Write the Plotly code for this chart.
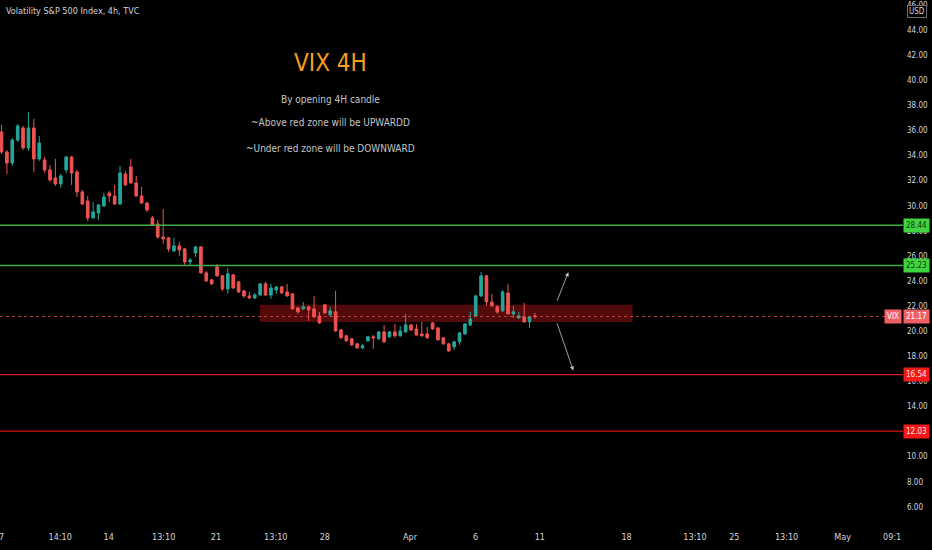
import plotly.graph_objects as go

# 4h candles, bar index 0 = first visible bar (Mar 7)
opens = [35.88, 34.29, 33.41, 35.24, 36.20, 34.61, 36.20, 33.73, 33.65, 32.85,
         32.22, 31.74, 32.85, 33.89, 32.69, 31.10, 30.38, 29.03, 29.43, 29.98,
         31.02, 30.78, 30.14, 32.53, 33.09, 31.82, 30.78, 30.22, 29.03, 28.55,
         27.51, 27.44, 26.40, 26.80, 26.56, 25.52, 26.24, 26.72, 24.65, 24.09,
         25.12, 24.41, 23.37, 24.49, 23.93, 23.21, 22.81, 22.65, 22.89, 23.77,
         22.89, 23.29, 23.53, 23.13, 22.97, 21.86, 21.78, 21.94, 21.78, 21.22,
         22.10, 21.30, 21.54, 20.10, 19.63, 19.39, 18.99, 18.67, 19.23, 19.55,
         19.39, 19.94, 19.55, 19.94, 19.63, 19.94, 20.50, 20.18, 19.78, 19.78,
         20.66, 20.26, 19.47, 18.99, 18.75, 19.15, 19.78, 20.50, 21.22, 22.81,
         24.41, 22.33, 21.94, 21.62, 23.05, 21.38, 21.06, 21.14, 20.74, 21.22]
highs = [36.44, 34.45, 35.40, 36.52, 36.36, 37.47, 36.92, 35.56, 33.89, 33.25,
         33.73, 32.53, 33.97, 33.97, 32.85, 31.26, 30.78, 30.30, 30.14, 31.02,
         31.18, 31.66, 33.17, 32.77, 33.73, 32.38, 31.50, 30.30, 29.19, 28.87,
         29.74, 27.51, 27.44, 27.12, 26.64, 25.84, 26.80, 26.80, 24.80, 24.17,
         25.36, 24.49, 25.04, 24.57, 24.01, 23.29, 23.13, 23.05, 23.85, 23.93,
         23.77, 23.61, 23.61, 23.77, 23.05, 21.94, 22.33, 22.02, 22.81, 21.54,
         22.18, 21.94, 23.21, 20.18, 19.70, 19.47, 19.07, 18.99, 19.63, 19.70,
         20.02, 20.50, 20.02, 20.58, 20.42, 21.38, 20.58, 20.58, 20.74, 20.34,
         20.74, 20.34, 19.55, 19.07, 19.23, 19.94, 20.66, 21.54, 22.89, 24.73,
         24.49, 22.97, 22.10, 23.29, 23.77, 22.02, 21.54, 22.25, 21.22, 21.46]
lows = [34.13, 32.53, 33.17, 35.08, 34.45, 34.37, 32.69, 33.57, 32.61, 31.90,
        31.58, 31.42, 32.61, 31.66, 30.70, 30.06, 28.79, 28.95, 28.87, 29.90,
        30.30, 30.06, 30.06, 31.58, 31.74, 30.70, 30.14, 29.51, 28.39, 27.36,
        26.96, 26.32, 26.32, 26.00, 25.28, 25.28, 25.92, 24.57, 23.93, 23.69,
        24.33, 23.21, 22.97, 23.37, 23.05, 22.65, 22.57, 22.57, 22.81, 22.81,
        22.57, 22.97, 22.97, 22.73, 21.70, 21.38, 21.70, 20.82, 21.06, 20.58,
        21.38, 21.14, 19.94, 19.39, 19.15, 18.83, 18.59, 18.59, 19.15, 18.59,
        19.31, 19.07, 19.47, 19.47, 19.55, 19.86, 20.02, 19.63, 19.55, 19.39,
        20.10, 19.23, 18.91, 18.35, 18.51, 18.91, 19.70, 20.42, 21.14, 22.73,
        22.02, 21.94, 21.38, 21.54, 21.30, 21.06, 20.98, 20.66, 20.26, 20.98]
closes = [34.29, 33.41, 35.24, 36.36, 34.61, 36.20, 33.73, 35.00, 32.85, 32.06,
          31.74, 32.38, 33.89, 32.61, 31.10, 30.14, 29.03, 29.51, 30.06, 30.70,
          30.78, 30.14, 32.61, 31.66, 31.82, 30.78, 30.22, 29.66, 28.47, 27.51,
          27.36, 26.56, 26.80, 26.48, 25.52, 25.68, 26.72, 24.65, 24.01, 23.77,
          24.41, 23.37, 24.57, 23.45, 23.13, 22.81, 22.65, 22.89, 23.77, 22.89,
          23.45, 23.53, 23.05, 22.81, 21.78, 21.54, 21.94, 21.70, 21.14, 20.66,
          21.46, 21.62, 20.02, 19.47, 19.23, 18.91, 18.67, 18.83, 19.55, 19.47,
          19.94, 19.15, 19.94, 19.63, 20.02, 20.50, 20.10, 19.70, 19.63, 19.47,
          20.18, 19.31, 18.99, 18.43, 19.15, 19.86, 20.58, 20.98, 22.81, 24.41,
          22.33, 22.02, 21.54, 23.13, 21.38, 21.54, 21.22, 20.74, 21.14, 21.17]
bars = list(range(len(closes)))

# time axis labels (bar index positions)
x_tick_pos = [0, 10.9, 19.9, 30.1, 39.8, 50.9, 60, 75.8, 88, 99.9, 116, 128.7, 136, 145.7, 156.1]
x_tick_txt = ["7", "14:10", "14", "13:10", "21", "13:10", "28", "Apr", "6", "11",
              "18", "13:10", "25", "13:10", "May"]

# horizontal levels
green_levels = [28.44, 25.23]
red_levels = [16.54, 12.03]
last_price = 21.17

# red zone and arrows
zone_x = [47.96, 117.1]
zone_y = [20.74, 22.10]
arrow_up = [(103.0, 22.31), (105.2, 24.70)]
arrow_down = [(103.0, 20.76), (106.1, 16.87)]

FONT = "DejaVu Sans Condensed, Liberation Sans Narrow, sans-serif"
TXT = "#d1d4dc"

fig = go.Figure()
fig.add_trace(go.Candlestick(
    x=bars, open=opens, high=highs, low=lows, close=closes,
    increasing=dict(line=dict(color="#26a69a", width=1), fillcolor="#26a69a"),
    decreasing=dict(line=dict(color="#ef5350", width=1), fillcolor="#ef5350"),
    whiskerwidth=0, hoverinfo="skip", showlegend=False,
))

shapes = []
shapes.append(dict(type="rect", xref="x", yref="y", x0=zone_x[0], x1=zone_x[1],
                   y0=zone_y[0], y1=zone_y[1], fillcolor="rgba(150,18,18,0.55)",
                   line=dict(width=0), layer="below"))
for lv in green_levels:
    shapes.append(dict(type="line", xref="paper", yref="y", x0=0, x1=1, y0=lv, y1=lv,
                       line=dict(color="#43b047", width=1.5)))
for lv in red_levels:
    shapes.append(dict(type="line", xref="paper", yref="y", x0=0, x1=1, y0=lv, y1=lv,
                       line=dict(color="#d81b1b", width=1.2)))
shapes.append(dict(type="line", xref="paper", yref="y", x0=0, x1=0.981, y0=last_price, y1=last_price,
                   line=dict(color="rgba(239,83,80,0.7)", width=1, dash="dot")))

annotations = []
for a in (arrow_up, arrow_down):
    annotations.append(dict(x=a[1][0], y=a[1][1], ax=a[0][0], ay=a[0][1], xref="x", yref="y",
                            axref="x", ayref="y", text="", showarrow=True, arrowhead=2,
                            arrowsize=1, arrowwidth=0.8, arrowcolor="#c8c8c8"))

annotations += [
    dict(text="Volatility S&P 500 Index, 4h, TVC", xref="paper", yref="paper", x=0.004, y=0.993,
         xanchor="left", yanchor="top", showarrow=False, font=dict(family=FONT, size=9, color=TXT)),
    dict(text="VIX 4H", xref="x", yref="y", x=61, y=41.4, showarrow=False,
         font=dict(family=FONT, size=24, color="#f59d1c")),
    dict(text="By opening 4H candle", xref="x", yref="y", x=61, y=38.5, showarrow=False,
         font=dict(family=FONT, size=10, color="#c4c4c4")),
    dict(text="~Above red zone will be UPWARDD", xref="x", yref="y", x=61, y=36.6, showarrow=False,
         font=dict(family=FONT, size=10, color="#c4c4c4")),
    dict(text="~Under red zone will be DOWNWARD", xref="x", yref="y", x=61, y=34.6, showarrow=False,
         font=dict(family=FONT, size=10, color="#c4c4c4")),
    dict(text="USD", xref="paper", yref="paper", x=1.0, y=0.99, xanchor="left", yanchor="top",
         xshift=4, showarrow=False, bgcolor="#000000", bordercolor="#6a6d78", borderwidth=1,
         borderpad=1, font=dict(family=FONT, size=8, color=TXT)),
    dict(text="7", xref="x", yref="paper", x=x_tick_pos[0], y=0, yanchor="top", yshift=-5,
         showarrow=False, font=dict(family=FONT, size=9, color=TXT)),
    dict(text="09:1", xref="paper", yref="paper", x=1.0, y=0, yanchor="top", yshift=-5,
         xanchor="right", showarrow=False, font=dict(family=FONT, size=9, color=TXT)),
]
for lv in green_levels:
    annotations.append(dict(text=f"{lv:.2f}", xref="paper", yref="y", x=1.0, y=lv, xanchor="left",
                            showarrow=False, bgcolor="#3fd33f", borderpad=2,
                            font=dict(family=FONT, size=8, color="#0d3a0d")))
for lv in red_levels:
    annotations.append(dict(text=f"{lv:.2f}", xref="paper", yref="y", x=1.0, y=lv, xanchor="left",
                            showarrow=False, bgcolor="#f41818", borderpad=2,
                            font=dict(family=FONT, size=8, color="#ffe5e5")))
annotations.append(dict(text=f"{last_price:.2f}", xref="paper", yref="y", x=1.0, y=last_price,
                        xanchor="left", showarrow=False, bgcolor="#ef6065", borderpad=2,
                        font=dict(family=FONT, size=8, color="#ffffff")))
annotations.append(dict(text="VIX", xref="paper", yref="y", x=1.0, y=last_price, xanchor="right",
                        xshift=-1, showarrow=False, bgcolor="#ef6065", borderpad=2,
                        font=dict(family=FONT, size=8, color="#ffffff")))

fig.update_layout(
    width=932, height=550,
    margin=dict(l=0, r=29, t=0, b=25),
    paper_bgcolor="#000000", plot_bgcolor="#000000",
    shapes=shapes, annotations=annotations,
    xaxis=dict(range=[-0.28, 167.3], tickvals=x_tick_pos[1:], ticktext=x_tick_txt[1:],
               showgrid=False, zeroline=False, showline=False, ticks="",
               rangeslider=dict(visible=False), ticklabelstandoff=5,
               tickfont=dict(family=FONT, size=9, color=TXT)),
    yaxis=dict(range=[4.55, 46.40], side="right", dtick=2, tick0=0, tickformat=".2f",
               showgrid=False, zeroline=False, showline=False, ticks="",
               ticklabelstandoff=3,
               tickfont=dict(family=FONT, size=8, color=TXT)),
    font=dict(family=FONT),
)

fig.write_html("out.html", config={"displayModeBar": False},
               post_script="document.body.style.margin='0';")
